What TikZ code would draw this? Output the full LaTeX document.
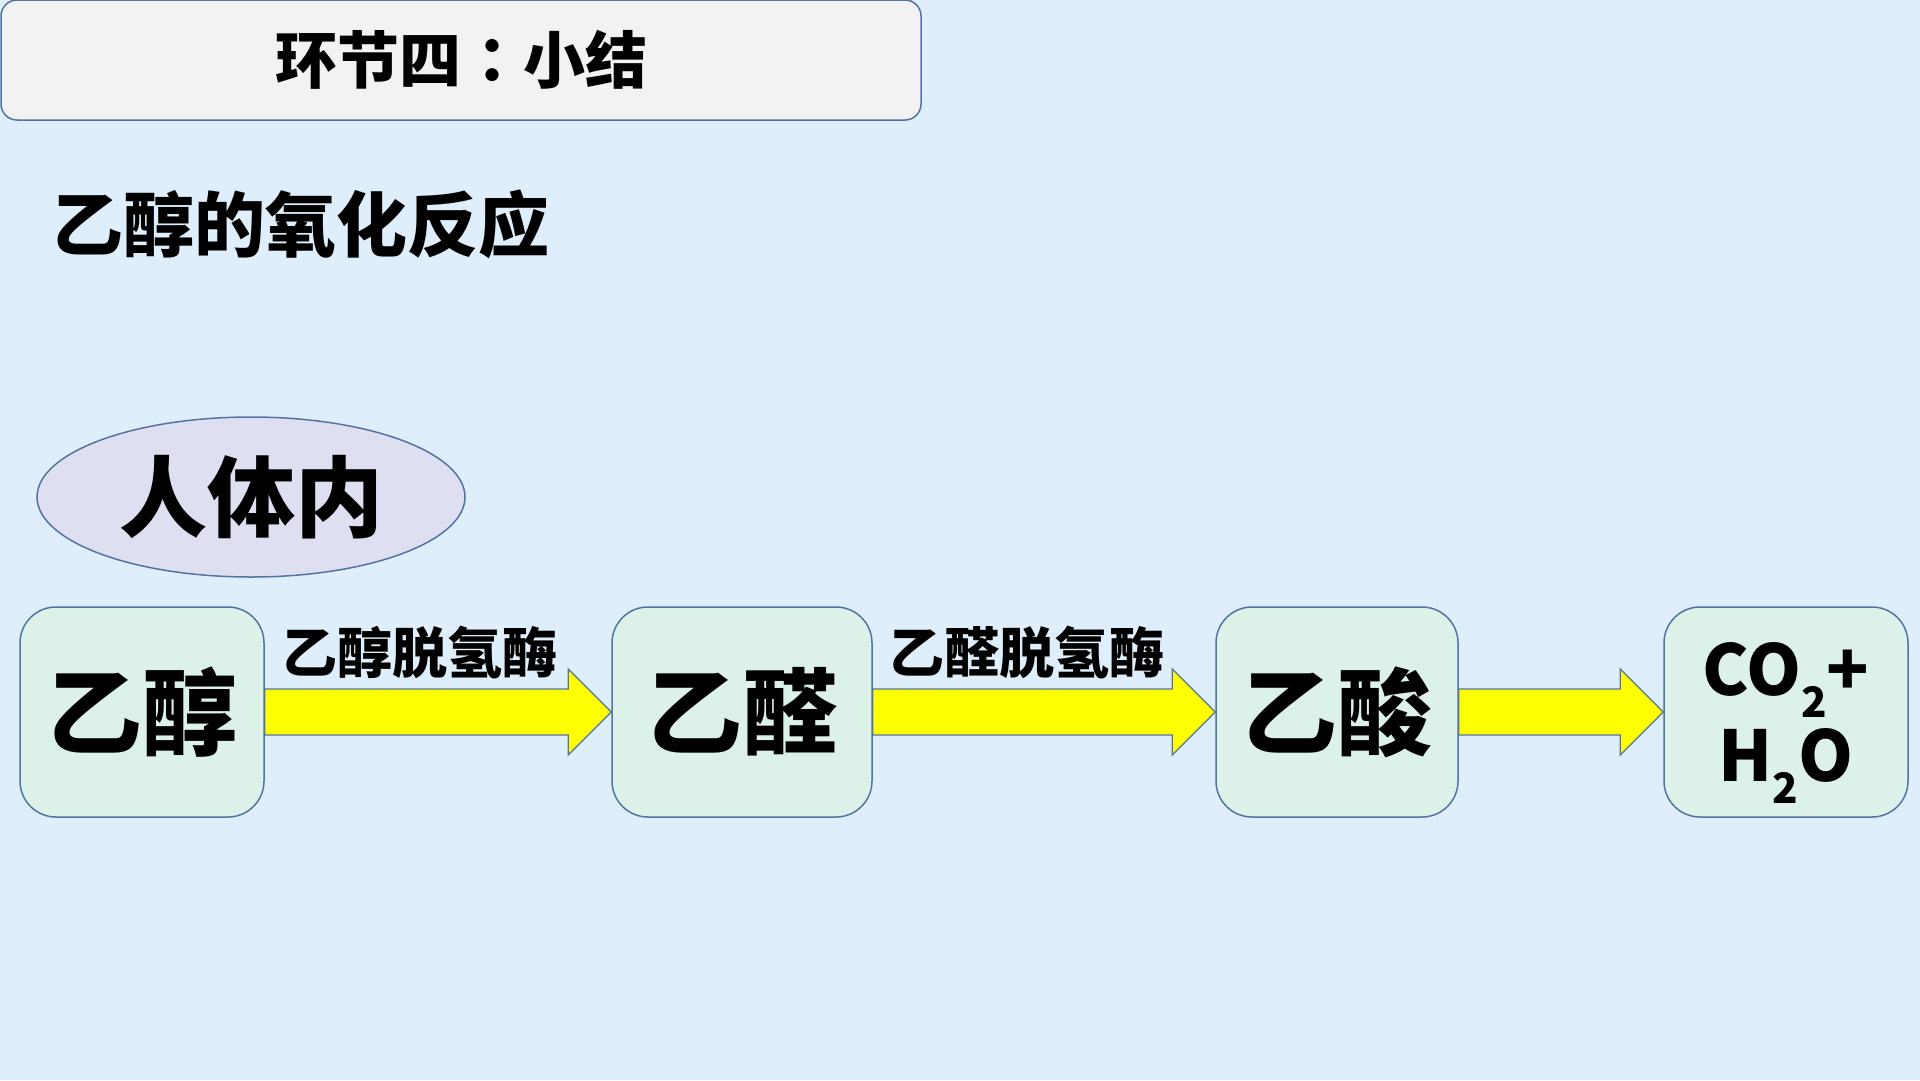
\documentclass[tikz,border=0pt]{standalone}
\usepackage{fontspec}
\usetikzlibrary{calc,shapes.geometric}
\newfontfamily\cjk{Noto Sans CJK SC Black}
\newfontfamily\cjktc{Noto Sans CJK TC Black}
\definecolor{bgc}{RGB}{222,238,250}
\definecolor{edgec}{RGB}{84,114,164}
\definecolor{titlefill}{RGB}{242,242,242}
\definecolor{boxfill}{RGB}{220,242,232}
\definecolor{ellfill}{RGB}{222,224,242}
\definecolor{arrowfill}{RGB}{255,255,0}
\tikzset{
  chembox/.style={draw=edgec, fill=boxfill, line width=1.5pt, rounded corners=36pt,
    minimum height=210pt, inner sep=0pt, font=\cjk\fontsize{95}{100}\selectfont},
  fatarrow/.style={draw=edgec, fill=arrowfill, line width=1.3pt},
  enzyme/.style={inner sep=0pt, font=\cjk\fontsize{55}{60}\selectfont},
}
\newcommand{\subtwo}{\raisebox{-0.32em}[0pt][0pt]{\fontsize{42}{42}\selectfont 2}}
\begin{document}
\begin{tikzpicture}[x=1pt,y=-1pt]
\useasboundingbox (0,0) rectangle (1920,1080);
\fill[bgc] (0,0) rectangle (1920,1080);
% title
\node[draw=edgec, fill=titlefill, line width=1.5pt, rounded corners=16pt,
  minimum width=920pt, minimum height=120pt, inner sep=0pt,
  font=\cjk\fontsize{62}{70}\selectfont] (title) at (461,60) {环节四{\cjktc ：}小结};
% subtitle
\node[anchor=west, inner sep=0pt, font=\cjk\fontsize{71}{80}\selectfont] (sub) at (52,224) {乙醇的氧化反应};
% ellipse
\node[ellipse, draw=edgec, fill=ellfill, line width=1.5pt, minimum width=428pt,
  minimum height=160pt, inner sep=0pt, font=\cjk\fontsize{88}{95}\selectfont] (body) at (251,497) {人体内};
% boxes
\node[chembox, minimum width=244pt] (ethanol) at (142,712) {乙醇};
\node[chembox, minimum width=260pt] (acetald) at (742,712) {乙醛};
\node[chembox, minimum width=242pt] (acetic) at (1337,712) {乙酸};
\node[chembox, minimum width=244pt, align=center, font=\cjk\fontsize{70}{86}\selectfont] (final) at (1786,712)
  {CO\subtwo+\\H\subtwo O};
% arrows
\foreach \a/\b in {ethanol/acetald, acetald/acetic, acetic/final}{
  \draw[fatarrow] let \p1=(\a.east), \p2=(\b.west) in
    (\x1,\y1+23pt) -- (\x2-43pt,\y1+23pt) -- (\x2-43pt,\y1+43pt) -- (\x2,\y1)
    -- (\x2-43pt,\y1-43pt) -- (\x2-43pt,\y1-23pt) -- (\x1,\y1-23pt) -- cycle;
}
% enzyme labels
\node[enzyme] (enz1) at (420,652) {乙醇脱氢酶};
\node[enzyme] (enz2) at (1027,652) {乙醛脱氢酶};
\end{tikzpicture}
\end{document}
